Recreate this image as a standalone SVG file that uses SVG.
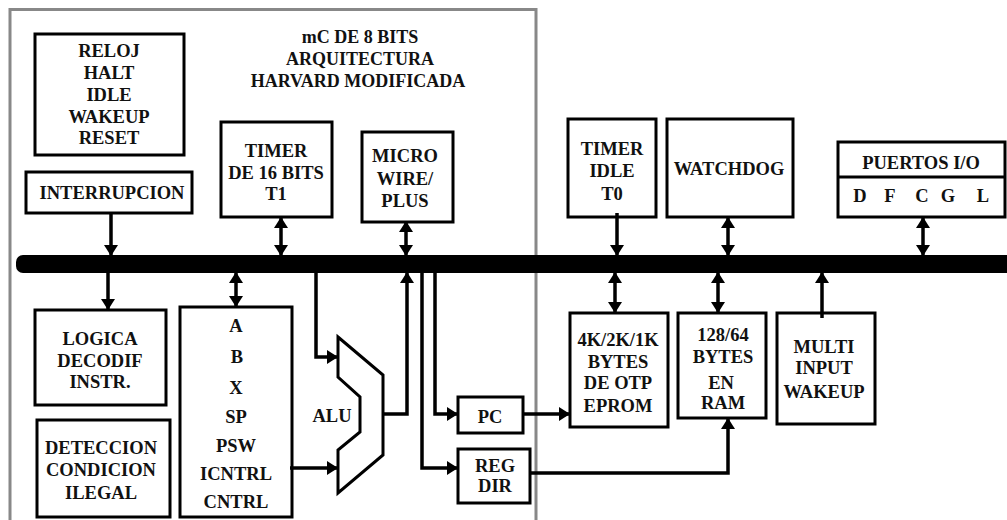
<svg xmlns="http://www.w3.org/2000/svg" width="1007" height="520" viewBox="0 0 1007 520">
<style>
.box{fill:#fff;stroke:#000;stroke-width:3}
.t{font-family:"Liberation Serif","Times New Roman",serif;font-weight:bold;font-size:18.5px;text-anchor:middle;fill:#111}
.ti{font-size:18px}
.c{fill:none;stroke:#000;stroke-width:3.5}
.a{marker-end:url(#ah)}
.d{marker-start:url(#ah);marker-end:url(#ah)}
</style>
<defs>
<marker id="ah" markerUnits="userSpaceOnUse" markerWidth="11" markerHeight="14" refX="10" refY="7" orient="auto-start-reverse" viewBox="0 0 11 14">
<path d="M0,0 L11,7 L0,14 z" fill="#000"/>
</marker>
</defs>
<rect width="1007" height="520" fill="#fff"/>
<path d="M10,522 V9.5 H536 V522" fill="none" stroke="#888" stroke-width="3"/>
<g id="title">
<text class="t ti" x="360" y="43">mC DE 8 BITS</text>
<text class="t ti" x="360" y="65">ARQUITECTURA</text>
<text class="t ti" x="358" y="87">HARVARD MODIFICADA</text>
</g>
<g id="bus"><rect x="16" y="255" width="1000" height="18" rx="7" fill="#000"/></g>
<g id="reloj"><rect class="box" x="35" y="34" width="149" height="121"/>
<text class="t" x="109" y="57">RELOJ</text><text class="t" x="109" y="79">HALT</text><text class="t" x="109" y="101">IDLE</text><text class="t" x="109" y="123">WAKEUP</text><text class="t" x="109" y="144">RESET</text></g>
<g id="interrupcion"><rect class="box" x="26" y="172" width="166" height="41"/>
<text class="t" x="112" y="199">INTERRUPCION</text></g>
<g id="timer16"><rect class="box" x="221" y="122" width="111" height="95"/>
<text class="t" x="276" y="157">TIMER</text><text class="t" x="276" y="179">DE 16 BITS</text><text class="t" x="276" y="200">T1</text></g>
<g id="microwire"><rect class="box" x="362" y="132" width="91" height="90"/>
<text class="t" x="405" y="162">MICRO</text><text class="t" x="405" y="185">WIRE/</text><text class="t" x="405" y="207">PLUS</text></g>
<g id="timeridle"><rect class="box" x="568" y="119" width="88" height="98"/>
<text class="t" x="612" y="155">TIMER</text><text class="t" x="612" y="177">IDLE</text><text class="t" x="612" y="200">T0</text></g>
<g id="watchdog"><rect class="box" x="667" y="119" width="126" height="98"/>
<text class="t" x="729" y="175">WATCHDOG</text></g>
<g id="puertos"><rect class="box" x="838" y="142" width="167" height="75"/>
<line x1="838" y1="177" x2="1005" y2="177" stroke="#000" stroke-width="3"/>
<text class="t" x="921" y="169">PUERTOS I/O</text>
<text class="t" x="860" y="202">D</text><text class="t" x="890" y="202">F</text><text class="t" x="922" y="202">C</text><text class="t" x="948" y="202">G</text><text class="t" x="983" y="202">L</text></g>
<g id="logica"><rect class="box" x="35" y="310" width="131" height="95"/>
<text class="t" x="100" y="345">LOGICA</text><text class="t" x="100" y="367">DECODIF</text><text class="t" x="100" y="388">INSTR.</text></g>
<g id="deteccion"><rect class="box" x="37" y="420" width="133" height="97"/>
<text class="t" x="101" y="454">DETECCION</text><text class="t" x="101" y="476">CONDICION</text><text class="t" x="101" y="499">ILEGAL</text></g>
<g id="registros"><rect class="box" x="180" y="307" width="112" height="210"/>
<text class="t" x="236" y="332">A</text><text class="t" x="237" y="363">B</text><text class="t" x="236" y="394">X</text><text class="t" x="236" y="423">SP</text><text class="t" x="236" y="452">PSW</text><text class="t" x="236" y="480">ICNTRL</text><text class="t" x="236" y="508">CNTRL</text></g>
<g id="alu"><path class="box" d="M338,337 L383,375 L383,455 L338,493 L338,450 L360,432 L360,397 L338,377 Z"/>
<text class="t" x="332" y="422">ALU</text></g>
<g id="pc"><rect class="box" x="458" y="397" width="65" height="36"/>
<text class="t" x="490" y="423">PC</text></g>
<g id="regdir"><rect class="box" x="458" y="449" width="72" height="54"/>
<text class="t" x="495" y="472">REG</text><text class="t" x="495" y="492">DIR</text></g>
<g id="otp"><rect class="box" x="570" y="313" width="98" height="114"/>
<text class="t" x="618" y="346">4K/2K/1K</text><text class="t" x="618" y="368">BYTES</text><text class="t" x="618" y="389">DE OTP</text><text class="t" x="618" y="412">EPROM</text></g>
<g id="ram"><rect class="box" x="678" y="313" width="88" height="105"/>
<text class="t" x="723" y="341">128/64</text><text class="t" x="723" y="363">BYTES</text><text class="t" x="721" y="389">EN</text><text class="t" x="723" y="409">RAM</text></g>
<g id="multi"><rect class="box" x="777" y="313" width="98" height="111"/>
<text class="t" x="824" y="353">MULTI</text><text class="t" x="824" y="374">INPUT</text><text class="t" x="824" y="398">WAKEUP</text></g>
<g id="connectors">
<path class="c a" d="M111,213 V255"/>
<path class="c d" d="M281,218 V255"/>
<path class="c d" d="M406,222 V255"/>
<path class="c a" d="M617,213 V255"/>
<path class="c d" d="M728,218 V255"/>
<path class="c d" d="M923,218 V255"/>
<path class="c a" d="M108,273 V309"/>
<path class="c d" d="M236,273 V306"/>
<path class="c a" d="M316,273 V357 H337"/>
<path class="c a" d="M290,468 H337"/>
<path class="c a" d="M383,414 H407 V273"/>
<path class="c a" d="M435,273 V414 H457"/>
<path class="c a" d="M422,273 V468 H457"/>
<path class="c a" d="M523,414 H569"/>
<path class="c a" d="M530,473 H728 V419"/>
<path class="c d" d="M615,273 V312"/>
<path class="c d" d="M718,273 V312"/>
<path class="c a" d="M822,318 V273"/>
</g>
</svg>
